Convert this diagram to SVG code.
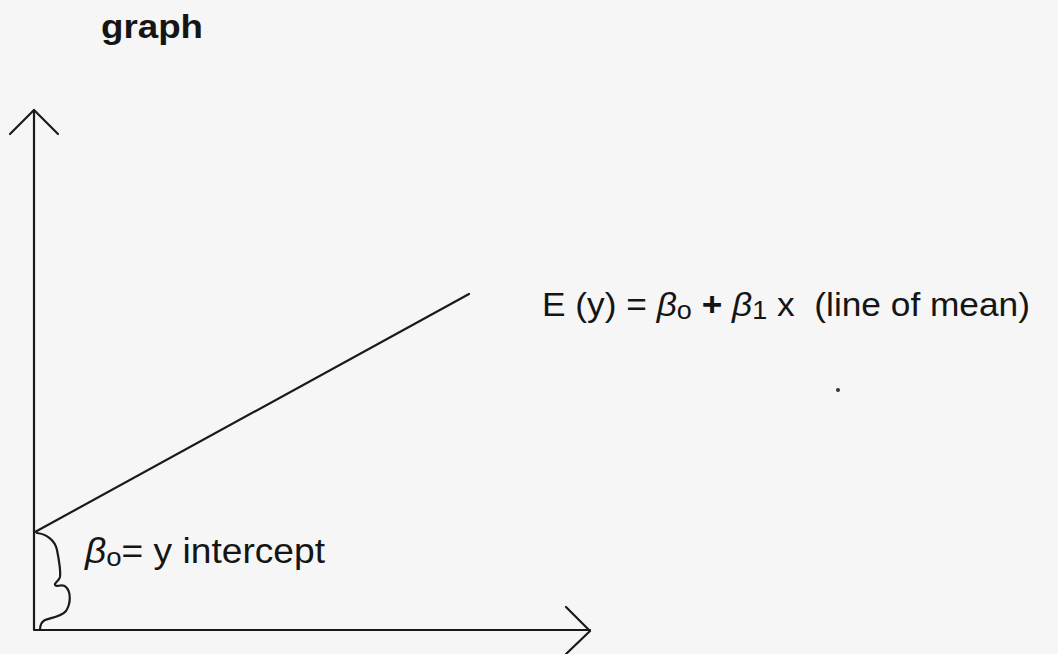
<svg xmlns="http://www.w3.org/2000/svg" width="1058" height="654" viewBox="0 0 1058 654">
<style>
.ax{stroke:#1a1a1a;stroke-width:2.2;fill:none;stroke-linecap:round;stroke-linejoin:round}
.t{font-family:"Liberation Sans",Arial,sans-serif;fill:#151515}
.b{font-style:italic}
</style>
<rect width="1058" height="654" fill="#f6f6f6"/>
<g id="title"><text class="t" x="101" y="38" font-size="34" font-weight="bold" textLength="102" lengthAdjust="spacingAndGlyphs">graph</text></g>
<g id="axes">
<path class="ax" d="M34,110 V630 H590"/>
<path class="ax" d="M10,134 L34,110 L58,134"/>
<path class="ax" d="M566,607 L590,631 L566,654"/>
</g>
<g id="connectors">
<path class="ax" d="M35,532 L469,294"/>
<path class="ax" stroke-width="1.8" d="M37,533 C46,534 55,540 57,550 C59,560 61,570 60,577 C59,581 54,583 55,585 C56,588 62,583 66,587 C71,592 71,603 66,611 C61,617 50,618 45,620 C41,622 40,626 40,630"/>
</g>
<g id="equation"><text class="t" x="542" y="316" font-size="34" textLength="488" lengthAdjust="spacingAndGlyphs" xml:space="preserve">E (y) = <tspan class="b">β</tspan><tspan font-size="26" dy="3">o</tspan><tspan dy="-3" font-weight="bold"> + </tspan><tspan class="b">β</tspan><tspan font-size="26" dy="3">1</tspan><tspan dy="-3"> x  (line of mean)</tspan></text></g>
<g id="intercept"><text class="t" x="85" y="563" font-size="35" textLength="240" lengthAdjust="spacingAndGlyphs"><tspan class="b">β</tspan><tspan font-size="26" dy="3">o</tspan><tspan dy="-3">= y intercept</tspan></text></g>
<circle cx="838" cy="390" r="2" fill="#333"/>
</svg>
